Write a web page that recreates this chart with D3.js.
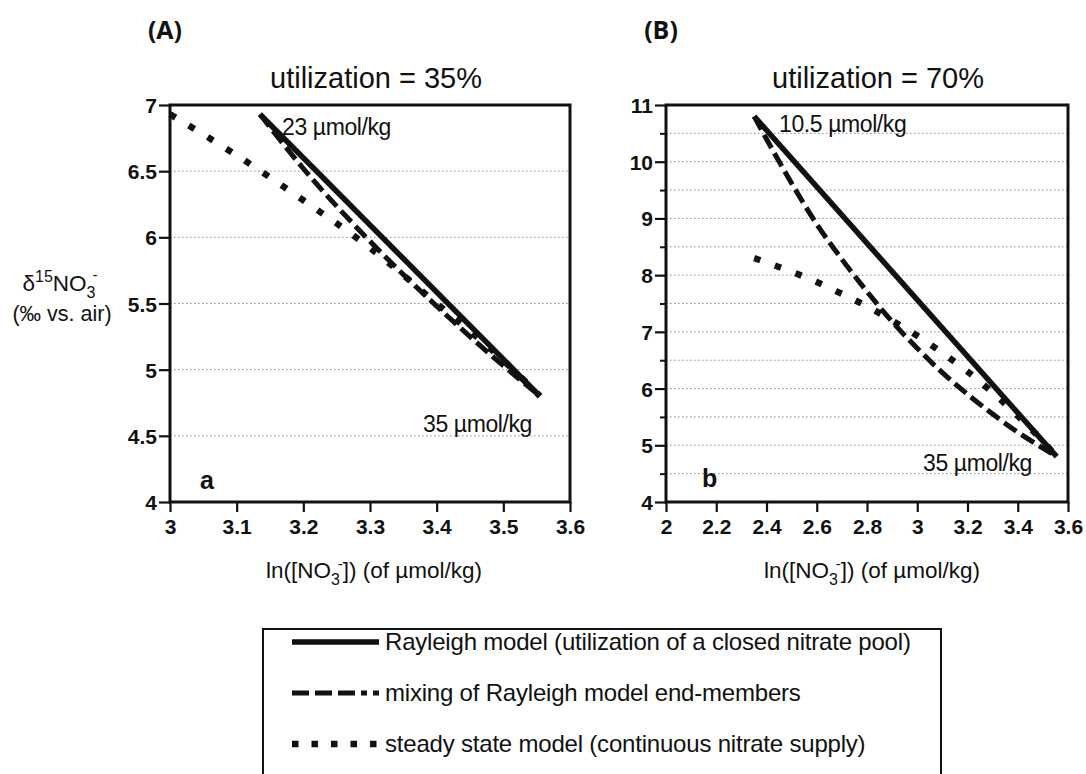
<!DOCTYPE html>
<html>
<head>
<meta charset="utf-8">
<script src="https://cdn.jsdelivr.net/npm/d3@7"></script>
<style>
  body { margin: 0; background: #fff; }
  svg { display: block; }
  text { font-family: "Liberation Sans", Arial, Helvetica, sans-serif; fill: #111; }
</style>
</head>
<body>
<svg id="chart" width="1086" height="774"></svg>
<script>
// ---------------- DATA ----------------
const panelLetters = ["(A)", "(B)"];
const panelTitles = ["utilization = 35%", "utilization = 70%"];
const panelTags = ["a", "b"];

// Panel A (35% utilization)
const xTicksA = [3, 3.1, 3.2, 3.3, 3.4, 3.5, 3.6];
const yTicksA = [4, 4.5, 5, 5.5, 6, 6.5, 7];
const gridA = [4.5, 5, 5.5, 6, 6.5];
const rayleighAx = [3.135, 3.555];
const rayleighAy = [6.93, 4.80];
const mixingAx = [3.135, 3.2, 3.3, 3.4, 3.5, 3.555];
const mixingAy = [6.93, 6.52, 5.97, 5.48, 5.03, 4.80];
const steadyAx = [3.0, 3.1, 3.2, 3.3, 3.4, 3.5, 3.555];
const steadyAy = [6.93, 6.62, 6.28, 5.92, 5.50, 5.07, 4.80];
const labelsA = ["23 µmol/kg", "35 µmol/kg"];

// Panel B (70% utilization)
const xTicksB = [2, 2.2, 2.4, 2.6, 2.8, 3, 3.2, 3.4, 3.6];
const yTicksB = [4, 5, 6, 7, 8, 9, 10, 11];
const yMinorB = [4.5, 5.5, 6.5, 7.5, 8.5, 9.5, 10.5];
const gridB = [4.5, 5, 5.5, 6, 6.5, 7, 7.5, 8, 8.5, 9, 9.5, 10, 10.5];
const rayleighBx = [2.351, 3.555];
const rayleighBy = [10.80, 4.80];
const mixingBx = [2.351, 2.4, 2.5, 2.6, 2.7, 2.8, 2.9, 3.0, 3.1, 3.2, 3.3, 3.4, 3.5, 3.555];
const mixingBy = [10.80, 10.40, 9.62, 8.90, 8.28, 7.71, 7.18, 6.71, 6.28, 5.90, 5.55, 5.23, 4.95, 4.80];
const steadyBx = [2.351, 2.5, 2.6, 2.7, 2.8, 2.9, 3.0, 3.1, 3.2, 3.3, 3.4, 3.5, 3.555];
const steadyBy = [8.30, 8.06, 7.88, 7.67, 7.45, 7.20, 6.93, 6.63, 6.30, 5.93, 5.52, 5.07, 4.80];
const labelsB = ["10.5 µmol/kg", "35 µmol/kg"];

const legendLabels = [
  "Rayleigh model (utilization of a closed nitrate pool)",
  "mixing of Rayleigh model end-members",
  "steady state model (continuous nitrate supply)"
];

// ---------------- STYLES ----------------
const styles = {
  solid:  { width: 5.5, dash: null, cap: "butt" },
  dashed: { width: 5, dash: "15,6", cap: "butt" },
  dotted: { width: 6.5, dash: "6.5,15.5", cap: "butt" }
};

const svg = d3.select("#chart");

function zip(xs, ys) { return xs.map((x, i) => [x, ys[i]]); }

function drawPanel(cfg) {
  const x = d3.scaleLinear().domain(cfg.xDomain).range([cfg.left, cfg.right]);
  const y = d3.scaleLinear().domain(cfg.yDomain).range([cfg.bottom, cfg.top]);
  const g = svg.append("g");

  // gridlines
  g.append("g").selectAll("line").data(cfg.grid).join("line")
    .attr("x1", cfg.left).attr("x2", cfg.right)
    .attr("y1", d => y(d)).attr("y2", d => y(d))
    .attr("stroke", "#8a8a8a").attr("stroke-width", 1)
    .attr("stroke-dasharray", "1.5,2.5");

  // minor ticks
  if (cfg.yMinor) {
    g.append("g").attr("transform", `translate(${cfg.left},0)`)
      .call(d3.axisLeft(y).tickValues(cfg.yMinor).tickSize(6).tickSizeOuter(0).tickFormat(""))
      .call(s => s.select(".domain").remove())
      .call(s => s.selectAll("line").attr("stroke", "#111").attr("stroke-width", 2));
  }

  // axes
  const xAxis = d3.axisBottom(x).tickValues(cfg.xTicks).tickSize(10).tickSizeOuter(0)
    .tickPadding(7).tickFormat(d3.format("~g"));
  const yAxis = d3.axisLeft(y).tickValues(cfg.yTicks).tickSize(11).tickSizeOuter(0)
    .tickPadding(2).tickFormat(d3.format("~g"));
  g.append("g").attr("transform", `translate(0,${cfg.bottom})`).call(xAxis)
    .call(s => s.selectAll("line").attr("stroke", "#111").attr("stroke-width", 2.2))
    .call(s => s.selectAll("text").style("font-size", "21px").style("font-weight", "bold")
      .style("font-family", "'Liberation Sans', Arial, sans-serif").attr("fill", "#111"));
  g.append("g").attr("transform", `translate(${cfg.left},0)`).call(yAxis)
    .call(s => s.selectAll("line").attr("stroke", "#111").attr("stroke-width", 2.2))
    .call(s => s.selectAll("text").style("font-size", "21px").style("font-weight", "bold")
      .style("font-family", "'Liberation Sans', Arial, sans-serif").attr("fill", "#111")
      .attr("dy", "0.36em"));
  g.selectAll(".domain").remove();

  // frame
  g.append("rect").attr("x", cfg.left).attr("y", cfg.top)
    .attr("width", cfg.right - cfg.left).attr("height", cfg.bottom - cfg.top)
    .attr("fill", "none").attr("stroke", "#111").attr("stroke-width", 3);

  // series
  const line = d3.line().x(d => x(d[0])).y(d => y(d[1])).curve(d3.curveMonotoneX);
  cfg.series.forEach(s => {
    const st = styles[s.style];
    g.append("path").datum(zip(s.x, s.y)).attr("d", line)
      .attr("fill", "none").attr("stroke", "#111")
      .attr("stroke-width", st.width)
      .attr("stroke-linecap", st.cap)
      .attr("stroke-dasharray", st.dash);
  });

  // titles and labels
  svg.append("text").attr("x", cfg.letterX).attr("y", 39).attr("text-anchor", "middle")
    .style("font-family", "'Open Sans', sans-serif").style("font-weight", "bold")
    .style("font-size", "25px").text(cfg.letter);
  svg.append("text").attr("x", cfg.titleX).attr("y", 88).attr("text-anchor", "middle")
    .style("font-size", "29px").text(cfg.title);
  svg.append("text").attr("x", cfg.tagX).attr("y", cfg.tagY)
    .style("font-size", "25px").style("font-weight", "bold").text(cfg.tag);
  svg.append("text").attr("x", cfg.lab1X).attr("y", cfg.lab1Y)
    .style("font-size", "23px").style("letter-spacing", "-0.4px").text(cfg.labels[0]);
  svg.append("text").attr("x", cfg.lab2X).attr("y", cfg.lab2Y)
    .style("font-size", "23px").style("letter-spacing", "-0.4px").text(cfg.labels[1]);

  // x axis title: ln([NO3-]) (of µmol/kg)
  const xt = svg.append("text").attr("x", cfg.xTitleX).attr("y", 578)
    .attr("text-anchor", "middle").style("font-size", "22.5px");
  xt.append("tspan").text("ln([NO");
  xt.append("tspan").attr("dy", 7).style("font-size", "16px").text("3");
  xt.append("tspan").attr("dy", -16).attr("dx", -2).style("font-size", "15px").text("-");
  xt.append("tspan").attr("dy", 9).text("]) (of µmol/kg)");
}

drawPanel({
  xDomain: [3, 3.6], yDomain: [4, 7], left: 170, right: 570, top: 105, bottom: 502,
  xTicks: xTicksA, yTicks: yTicksA, grid: gridA,
  series: [
    { x: steadyAx, y: steadyAy, style: "dotted" },
    { x: mixingAx, y: mixingAy, style: "dashed" },
    { x: rayleighAx, y: rayleighAy, style: "solid" }
  ],
  letter: panelLetters[0], letterX: 165, title: panelTitles[0], titleX: 376,
  tag: panelTags[0], tagX: 200, tagY: 489,
  labels: labelsA, lab1X: 282, lab1Y: 135, lab2X: 423, lab2Y: 432,
  xTitleX: 374
});

drawPanel({
  xDomain: [2, 3.6], yDomain: [4, 11], left: 666, right: 1068, top: 105, bottom: 502,
  xTicks: xTicksB, yTicks: yTicksB, yMinor: yMinorB, grid: gridB,
  series: [
    { x: steadyBx, y: steadyBy, style: "dotted" },
    { x: mixingBx, y: mixingBy, style: "dashed" },
    { x: rayleighBx, y: rayleighBy, style: "solid" }
  ],
  letter: panelLetters[1], letterX: 661, title: panelTitles[1], titleX: 878,
  tag: panelTags[1], tagX: 702, tagY: 487,
  labels: labelsB, lab1X: 779, lab1Y: 132, lab2X: 923, lab2Y: 471,
  xTitleX: 872
});

// y axis title (panel A)
const yt = svg.append("text").attr("x", 60).attr("y", 291).attr("text-anchor", "middle")
  .style("font-size", "22.5px");
yt.append("tspan").text("δ");
yt.append("tspan").attr("dy", -9).style("font-size", "16px").text("15");
yt.append("tspan").attr("dy", 9).text("NO");
yt.append("tspan").attr("dy", 7).style("font-size", "16px").text("3");
yt.append("tspan").attr("dy", -18).attr("dx", -3).style("font-size", "15px").text("-");
svg.append("text").attr("x", 62).attr("y", 321).attr("text-anchor", "middle")
  .style("font-size", "21.5px").text("(‰ vs. air)");

// legend
const lg = svg.append("g");
lg.append("rect").attr("x", 263).attr("y", 629).attr("width", 678).attr("height", 170)
  .attr("fill", "none").attr("stroke", "#111").attr("stroke-width", 2);
const legendStyles = ["solid", "dashed", "dotted"];
const legendY = d3.scalePoint().domain(legendLabels).range([642, 744]);
legendLabels.forEach((lab, i) => {
  const st = styles[legendStyles[i]];
  const yy = legendY(lab);
  lg.append("line").attr("x1", 292).attr("x2", 379).attr("y1", yy).attr("y2", yy)
    .attr("stroke", "#111").attr("stroke-width", st.width)
    .attr("stroke-dasharray", legendStyles[i] === "dashed" ? "17,6,17,6,17,6,6,6" :
      (legendStyles[i] === "dotted" ? "6.5,13" : null));
  lg.append("text").attr("x", 385).attr("y", yy + 8).style("font-size", "24px")
    .style("letter-spacing", "-0.2px").text(lab);
});
</script>
</body>
</html>
